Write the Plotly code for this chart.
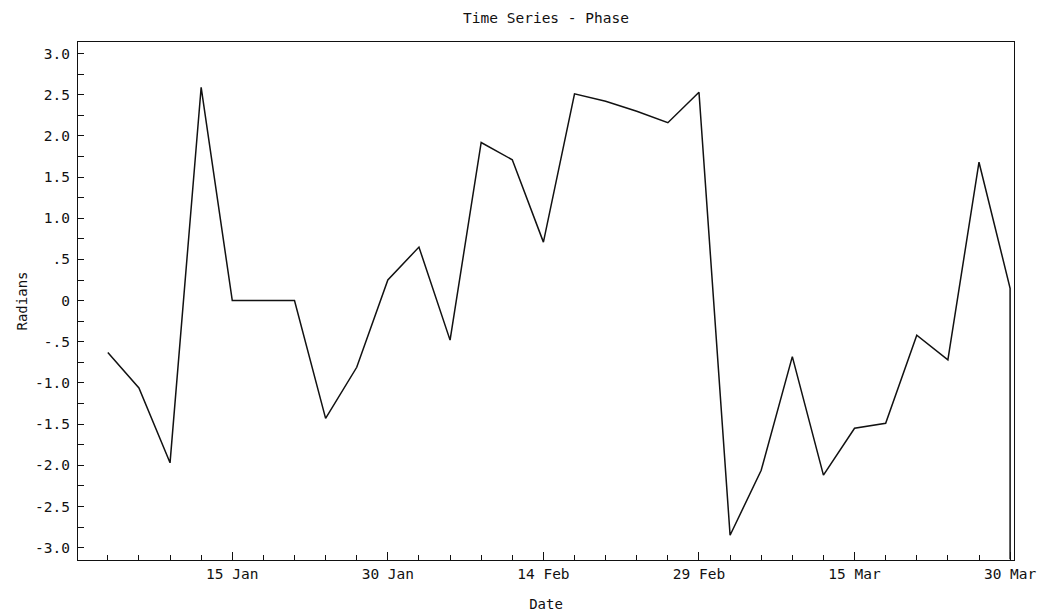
import plotly.graph_objects as go

# Phase samples, every third day from 3 Jan to 30 Mar 1988 (radians, wrapped to [-pi, pi])
dates = [
    "1988-01-03", "1988-01-06", "1988-01-09", "1988-01-12", "1988-01-15",
    "1988-01-18", "1988-01-21", "1988-01-24", "1988-01-27", "1988-01-30",
    "1988-02-02", "1988-02-05", "1988-02-08", "1988-02-11", "1988-02-14",
    "1988-02-17", "1988-02-20", "1988-02-23", "1988-02-26", "1988-02-29",
    "1988-03-03", "1988-03-06", "1988-03-09", "1988-03-12", "1988-03-15",
    "1988-03-18", "1988-03-21", "1988-03-24", "1988-03-27", "1988-03-30",
    "1988-03-30",
]
phase = [
    -0.63, -1.06, -1.97, 2.59, 0.00,
    0.00, 0.00, -1.43, -0.81, 0.25,
    0.65, -0.48, 1.92, 1.71, 0.71,
    2.51, 2.42, 2.30, 2.16, 2.53,
    -2.85, -2.06, -0.68, -2.12, -1.55,
    -1.49, -0.42, -0.72, 1.68, 0.15,
    -3.14,
]

x_tick_dates = ["1988-01-15", "1988-01-30", "1988-02-14", "1988-02-29", "1988-03-15", "1988-03-30"]
x_tick_text = ["15 Jan", "30 Jan", "14 Feb", "29 Feb", "15 Mar", "30 Mar"]

y_tick_vals = [3.0, 2.5, 2.0, 1.5, 1.0, 0.5, 0.0, -0.5, -1.0, -1.5, -2.0, -2.5, -3.0]
y_tick_text = ["3.0", "2.5", "2.0", "1.5", "1.0", ".5", "0", "-.5", "-1.0", "-1.5", "-2.0", "-2.5", "-3.0"]

FONT = "DejaVu Sans Mono"
INK = "#111111"

fig = go.Figure()
fig.add_trace(go.Scatter(
    x=dates, y=phase, mode="lines",
    line=dict(color=INK, width=1.5),
    showlegend=False, hoverinfo="x+y",
))

fig.update_layout(
    width=1040, height=615,
    margin=dict(l=78, r=26, t=42, b=55, autoexpand=False),
    paper_bgcolor="white", plot_bgcolor="white",
    font=dict(family=FONT, size=14, color=INK),
    title=dict(text="Time Series - Phase", x=0.5, xref="paper", xanchor="center",
               y=1 - 18 / 615, yref="container", yanchor="middle",
               font=dict(family=FONT, size=14.5, color=INK)),
)

fig.update_xaxes(
    type="date", automargin=False,
    range=["1987-12-31 03:00", "1988-03-30 09:00"],
    tickmode="array", tickvals=x_tick_dates, ticktext=x_tick_text,
    ticks="inside", ticklen=8, tickwidth=1, tickcolor=INK,
    minor=dict(ticks="inside", ticklen=5, tickwidth=1, tickcolor=INK,
               tick0="1988-01-03", dtick=3 * 86400000),
    showline=True, linecolor=INK, linewidth=1.2, mirror=True,
    showgrid=False, zeroline=False,
    tickfont=dict(family=FONT, size=14.5, color=INK),
    title=dict(text="Date", standoff=18, font=dict(family=FONT, size=14, color=INK)),
)

fig.update_yaxes(
    automargin=False,
    range=[-3.15, 3.14],
    tickmode="array", tickvals=y_tick_vals, ticktext=y_tick_text,
    ticks="inside", ticklen=6, tickwidth=1, tickcolor=INK,
    minor=dict(ticks="inside", ticklen=6, tickwidth=1, tickcolor=INK,
               tick0=0, dtick=0.25),
    showline=True, linecolor=INK, linewidth=1.2, mirror=True,
    showgrid=False, zeroline=False,
    tickfont=dict(family=FONT, size=14.5, color=INK),
    ticklabelstandoff=4,
    title=dict(text="Radians", standoff=4, font=dict(family=FONT, size=14, color=INK)),
)

fig.write_html("out.html")
